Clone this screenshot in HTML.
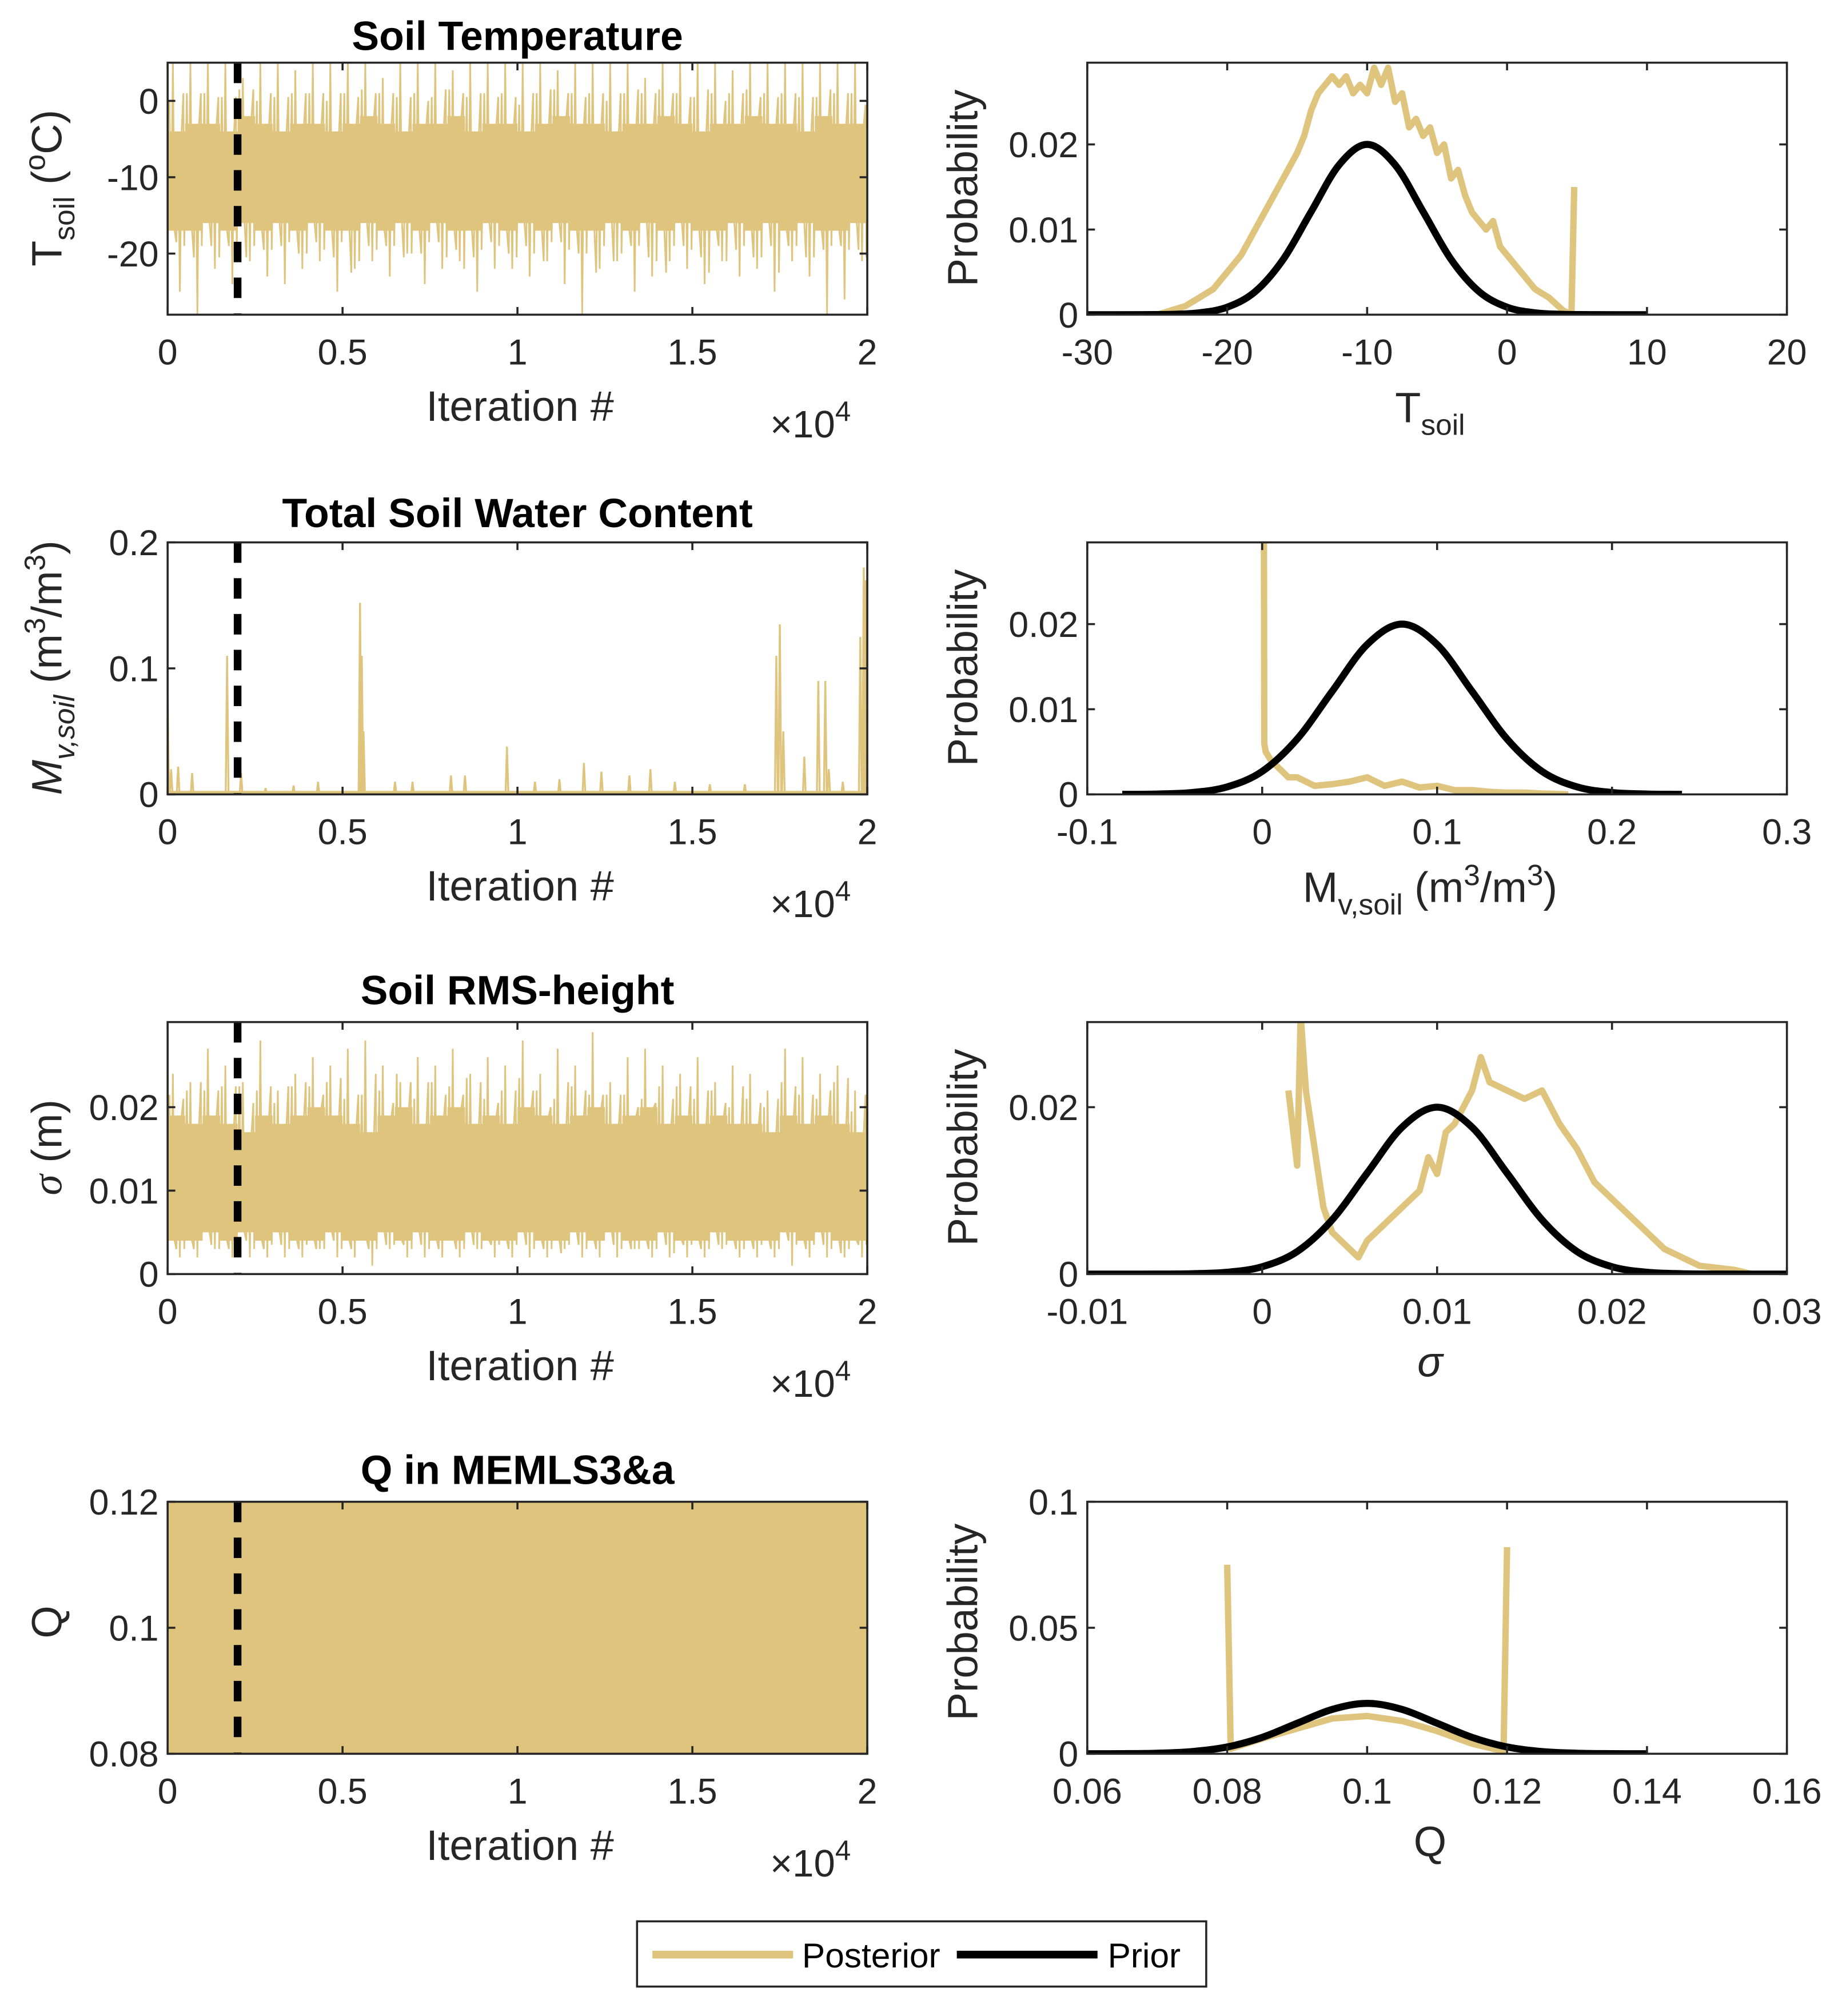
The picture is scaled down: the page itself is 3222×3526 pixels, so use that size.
<!DOCTYPE html>
<html><head><meta charset="utf-8"><style>
html,body{margin:0;padding:0;background:#fff;}
svg{display:block;}
text{font-family:"Liberation Sans",Arial,sans-serif;}
</style></head><body>
<svg id="fig" xmlns="http://www.w3.org/2000/svg" width="3222" height="3526" viewBox="0 0 1440 1576">
<rect x="0" y="0" width="1440" height="1576" fill="#fff"/>
</svg>
<script>
// ---------- DATA ----------
const tSpikeHi = [5,5,5,5,3,5,5,4,5,5,5,5,3,5,5,5,4,5,5,5,5,5,4,5,5,5,5,3,5,5,5,5,4,5,5,5,5,5,5,5];
const tSpikeLo = [-25,-28,-22,-24,-21,-23,-24,-22,-21,-25,-22,-21,-23,-20,-24,-22,-21,-25,-22,-22,-23,-21,-24,-28,-22,-21,-25,-23,-21,-22,-24,-21,-23,-22,-25,-21,-23,-28,-26,-21];
const tCoreHi = [-4,-3,-3,-4,-2,-3,-4,-3,-3,-4,-3,-2,-3,-4,-3,-3,-2,-4,-3,-3,-4,-3,-2,-3,-3,-4,-3,-3,-2,-3,-4,-3,-3,-2,-3,-3,-4,-2,-3,-3];
const tCoreLo = [-17,-17,-16,-17,-16,-17,-16,-17,-16,-17,-17,-16,-17,-16,-17,-16,-17,-17,-16,-17,-16,-17,-16,-17,-17,-16,-17,-16,-17,-16,-17,-17,-16,-17,-16,-17,-16,-17,-17,-16];

const waterIter = [0,100,300,700,1700,2100,2800,3600,4300,5500,5550,5600,6500,7000,8100,8500,9700,10500,11200,11900,12400,13200,13800,14500,15500,16500,17400,17500,17600,18200,18600,18800,18900,19300,19800,19900,19950];
const waterVal  = [0.085,0.02,0.022,0.017,0.11,0.017,0.005,0.007,0.01,0.152,0.11,0.05,0.01,0.01,0.015,0.015,0.038,0.01,0.012,0.025,0.018,0.015,0.02,0.01,0.008,0.008,0.11,0.135,0.05,0.03,0.09,0.09,0.02,0.01,0.125,0.18,0.17];

const sSpikeHi = [0.024,0.023,0.027,0.025,0.023,0.028,0.022,0.024,0.026,0.025,0.027,0.028,0.025,0.023,0.026,0.025,0.027,0.024,0.026,0.025,0.028,0.024,0.027,0.025,0.029,0.023,0.026,0.027,0.025,0.024,0.026,0.023,0.025,0.024,0.022,0.027,0.026,0.024,0.025,0.022];
const sSpikeLo = [0.002,0.002,0.003,0.002,0.002,0.002,0.002,0.002,0.003,0.002,0.002,0.001,0.003,0.002,0.002,0.002,0.002,0.003,0.002,0.002,0.002,0.002,0.003,0.002,0.002,0.002,0.003,0.002,0.002,0.002,0.002,0.003,0.002,0.002,0.002,0.001,0.002,0.002,0.002,0.002];
const sCoreHi = [0.019,0.018,0.019,0.018,0.017,0.019,0.018,0.019,0.02,0.019,0.018,0.017,0.019,0.02,0.018,0.019,0.02,0.018,0.019,0.018,0.02,0.019,0.018,0.019,0.02,0.018,0.019,0.02,0.018,0.019,0.018,0.019,0.018,0.018,0.017,0.019,0.018,0.019,0.018,0.017];
const sCoreLo = [0.004,0.004,0.005,0.004,0.005,0.004,0.005,0.004,0.004,0.005,0.004,0.004,0.005,0.004,0.005,0.004,0.004,0.005,0.004,0.004,0.005,0.004,0.004,0.005,0.004,0.005,0.004,0.004,0.005,0.004,0.004,0.005,0.004,0.004,0.004,0.005,0.004,0.005,0.004,0.004];

const qHi = [0.12,0.12,0.12,0.12,0.12,0.12,0.12,0.12,0.12,0.12];
const qLo = [0.08,0.08,0.08,0.08,0.08,0.08,0.08,0.08,0.08,0.08];

const tPostX = [-25,-23,-22,-21,-20,-19,-18,-17,-16,-15,-14.5,-14,-13.5,-13,-12.5,-12,-11.5,-11,-10.5,-10,-9.5,-9,-8.5,-8,-7.5,-7,-6.5,-6,-5.5,-5,-4.5,-4,-3.5,-3,-2.5,-2,-1.5,-1,-0.5,0,1,2,3,4,4.6,4.8];
const tPostY = [0,0.001,0.002,0.003,0.005,0.007,0.01,0.013,0.016,0.019,0.021,0.024,0.026,0.027,0.028,0.027,0.028,0.026,0.027,0.026,0.029,0.027,0.029,0.025,0.026,0.022,0.023,0.021,0.022,0.019,0.02,0.016,0.017,0.014,0.012,0.011,0.01,0.011,0.008,0.007,0.005,0.003,0.002,0.0005,0,0.015];
const tPriorX = [-30,-28,-26,-24,-22,-20,-18,-16,-14,-12,-10,-8,-6,-4,-2,0,2,4,6,8,10];
const tPriorY = [0,0,0.00001,0.00004,0.00022,0.00088,0.00271,0.00649,0.0121,0.0176,0.02,0.0176,0.0121,0.00649,0.00271,0.00088,0.00022,0.00004,0.00001,0,0];

const wPostX = [0.001,0.0012,0.002,0.005,0.01,0.015,0.02,0.03,0.04,0.05,0.06,0.07,0.08,0.09,0.1,0.11,0.12,0.13,0.14,0.15,0.16,0.175];
const wPostY = [0.0296,0.006,0.005,0.004,0.003,0.002,0.002,0.001,0.0012,0.0015,0.002,0.001,0.0015,0.0008,0.001,0.0005,0.0005,0.0003,0.0002,0.0002,0.0001,0];
const wPriorX = [-0.08,-0.06,-0.04,-0.02,0,0.02,0.04,0.06,0.08,0.1,0.12,0.14,0.16,0.18,0.2,0.22,0.24];
const wPriorY = [0.000006,0.000044,0.00022,0.00088,0.0027,0.0065,0.0121,0.0176,0.02,0.0176,0.0121,0.0065,0.0027,0.00088,0.00022,0.000044,0.000006];

const sPostX = [0.0015,0.002,0.0022,0.0025,0.003,0.0035,0.004,0.005,0.0055,0.006,0.007,0.008,0.009,0.0095,0.01,0.0105,0.011,0.012,0.0125,0.013,0.014,0.015,0.016,0.017,0.018,0.019,0.02,0.021,0.022,0.023,0.024,0.025,0.027,0.028];
const sPostY = [0.022,0.013,0.031,0.022,0.015,0.008,0.005,0.003,0.002,0.004,0.006,0.008,0.01,0.014,0.012,0.017,0.018,0.022,0.026,0.023,0.022,0.021,0.022,0.018,0.015,0.011,0.009,0.007,0.005,0.003,0.002,0.001,0.0005,0];
const sPriorX = [-0.01,-0.008,-0.006,-0.004,-0.002,0,0.002,0.004,0.006,0.008,0.01,0.012,0.014,0.016,0.018,0.02,0.022,0.024,0.026,0.028,0.03];
const sPriorY = [0,0,0.000006,0.000044,0.00022,0.00088,0.0027,0.0065,0.0121,0.0176,0.02,0.0176,0.0121,0.0065,0.0027,0.00088,0.00022,0.000044,0.000006,0,0];

const qPostX = [0.08,0.0805,0.085,0.09,0.095,0.1,0.105,0.11,0.115,0.1195,0.12];
const qPostY = [0.075,0.002,0.006,0.01,0.014,0.015,0.013,0.009,0.004,0.001,0.082];
const qPriorX = [0.06,0.065,0.07,0.075,0.08,0.085,0.09,0.095,0.1,0.105,0.11,0.115,0.12,0.125,0.13,0.135,0.14];
const qPriorY = [0.000006,0.000044,0.00022,0.00088,0.0027,0.0065,0.0121,0.0176,0.02,0.0176,0.0121,0.0065,0.0027,0.00088,0.00022,0.000044,0.000006];

const iterTicks = [0,5000,10000,15000,20000];
const iterTickLabels = ['0','0.5','1','1.5','2'];

// ---------- RENDER ----------
const NS = 'http://www.w3.org/2000/svg';
const svg = document.getElementById('fig');
const TAN = '#dfc47e', AX = '#262626';
const rowsTop = [49, 424, 799, 1174], H = 197;
const LX = 131, RX = 850, W = 547;
const TICKFS = 28;

function mk(tag, attrs, parent) {
  const e = document.createElementNS(NS, tag);
  for (const k in attrs) e.setAttribute(k, attrs[k]);
  (parent || svg).appendChild(e);
  return e;
}
function scale(d0, d1, r0, r1) { return v => r0 + (v - d0) / (d1 - d0) * (r1 - r0); }

function axes(name, x0, y0, xd, yd, xt, xtl, yt, ytl) {
  const g = mk('g', {});
  
  
  const sx = scale(xd[0], xd[1], x0, x0 + W), sy = scale(yd[0], yd[1], y0 + H, y0);
  return {g, sx, sy, x0, y0, xt, xtl, yt, ytl};
}
function frame(a) {
  const {g, sx, sy, x0, y0} = a;
  const b = mk('rect', {x: x0, y: y0, width: W, height: H, fill: 'none', stroke: AX, 'stroke-width': 1.6}, g);
  
  
  a.xt.forEach((v, i) => {
    const x = sx(v);
    mk('line', {x1: x, y1: y0 + H, x2: x, y2: y0 + H - 6, stroke: AX, 'stroke-width': 1.6}, g);
    mk('line', {x1: x, y1: y0, x2: x, y2: y0 + 6, stroke: AX, 'stroke-width': 1.6}, g);
    const t = mk('text', {x: x, y: y0 + H + 39, 'font-size': TICKFS, 'text-anchor': 'middle', fill: AX}, g);
    t.textContent = a.xtl[i];
    
    
  });
  a.yt.forEach((v, i) => {
    const y = sy(v);
    mk('line', {x1: x0, y1: y, x2: x0 + 6, y2: y, stroke: AX, 'stroke-width': 1.6}, g);
    mk('line', {x1: x0 + W, y1: y, x2: x0 + W - 6, y2: y, stroke: AX, 'stroke-width': 1.6}, g);
    const t = mk('text', {x: x0 - 7, y: y + 10, 'font-size': TICKFS, 'text-anchor': 'end', fill: AX}, g);
    t.textContent = a.ytl[i];
    
    
  });
}
function clip(id, a) {
  const cp = mk('clipPath', {id: id});
  mk('rect', {x: a.x0, y: a.y0, width: W, height: H}, cp);
  return 'url(#' + id + ')';
}
function bandTrace(a, cid, hi, lo, coreHi, coreLo) {
  const n = hi.length, bw = 20000 / n;
  const gg = mk('g', {'clip-path': clip(cid, a)}, a.g);
  let pts = [];
  for (let i = 0; i < n; i++) {
    const j = (i + 7) % n, k = (i + 13) % n;
    const mh = (hi[j] + coreHi[i]) / 2, ml = (lo[k] + coreLo[i]) / 2;
    pts.push(a.sx(i * bw + bw * 0.1) + ',' + a.sy(mh));
    pts.push(a.sx(i * bw + bw * 0.2) + ',' + a.sy(coreLo[i]));
    pts.push(a.sx(i * bw + bw * 0.3) + ',' + a.sy(hi[i]));
    pts.push(a.sx(i * bw + bw * 0.4) + ',' + a.sy(coreLo[i]));
    pts.push(a.sx(i * bw + bw * 0.5) + ',' + a.sy(ml));
    pts.push(a.sx(i * bw + bw * 0.6) + ',' + a.sy(coreHi[i]));
    pts.push(a.sx(i * bw + bw * 0.7) + ',' + a.sy(lo[i]));
    pts.push(a.sx(i * bw + bw * 0.8) + ',' + a.sy(coreHi[i]));
    pts.push(a.sx(i * bw + bw * 0.9) + ',' + a.sy((hi[k] + coreHi[j]) / 2));
    pts.push(a.sx(i * bw + bw * 0.95) + ',' + a.sy((lo[j] + coreLo[k]) / 2));
  }
  const sp = mk('polyline', {points: pts.join(' '), fill: 'none', stroke: TAN, 'stroke-width': 1.3}, gg);
  
  
  let up = [], dn = [];
  for (let i = 0; i < n; i++) {
    up.push(a.sx(i * bw) + ',' + a.sy(coreHi[i]));
    up.push(a.sx((i + 1) * bw) + ',' + a.sy(coreHi[i]));
    dn.unshift(a.sx(i * bw) + ',' + a.sy(coreLo[i]));
    dn.unshift(a.sx((i + 1) * bw) + ',' + a.sy(coreLo[i]));
  }
  const core = mk('polygon', {points: up.concat(dn).join(' '), fill: TAN, stroke: 'none'}, gg);
  
  
  return gg;
}
function burnin(a) {
  const x = a.sx(2000);
  const l = mk('line', {x1: x, y1: a.y0, x2: x, y2: a.y0 + H, stroke: '#000', 'stroke-width': 6, 'stroke-dasharray': '16,12'}, a.g);
  
  
}
function curve(a, xs, ys, color, w, name, cid, smooth) {
  const P = xs.map((v, i) => [a.sx(v), a.sy(ys[i])]);
  const gg = mk('g', {'clip-path': clip(cid, a)}, a.g);
  let p;
  if (smooth) {
    let d = 'M' + P[0][0] + ',' + P[0][1];
    for (let i = 0; i < P.length - 1; i++) {
      const p0 = P[Math.max(i - 1, 0)], p1 = P[i], p2 = P[i + 1], p3 = P[Math.min(i + 2, P.length - 1)];
      const c1x = p1[0] + (p2[0] - p0[0]) / 6, c1y = p1[1] + (p2[1] - p0[1]) / 6;
      const c2x = p2[0] - (p3[0] - p1[0]) / 6, c2y = p2[1] - (p3[1] - p1[1]) / 6;
      d += ' C' + c1x + ',' + c1y + ' ' + c2x + ',' + c2y + ' ' + p2[0] + ',' + p2[1];
    }
    p = mk('path', {d: d, fill: 'none', stroke: color, 'stroke-width': w, 'stroke-linejoin': 'round'}, gg);
  } else {
    p = mk('polyline', {points: P.map(q => q.join(',')).join(' '), fill: 'none', stroke: color, 'stroke-width': w, 'stroke-linejoin': 'round'}, gg);
  }
  
  
}
function text(str, x, y, size, opts) {
  const t = mk('text', Object.assign({x: x, y: y, 'font-size': size, fill: AX}, opts || {}));
  t.innerHTML = str;
  return t;
}
function title(str, y) {
  const t = text(str, LX + W / 2, y, 32, {'text-anchor': 'middle', 'font-weight': 'bold', fill: '#000'});
  
  
}
function iterLabel(y0) {
  const t = text('Iteration #', LX + W / 2 + 2, y0 + H + 83, 33, {'text-anchor': 'middle'});
  
  
  const e = text('×10<tspan dy="-13" font-size="22">4</tspan>', 602, y0 + H + 96, 30, {});
  
  
}
function ylab(str, cy, x, name) {
  const t = text(str, x, cy, 33, {'text-anchor': 'middle', transform: 'rotate(-90 ' + x + ' ' + cy + ')'});
  
  
}

// Row 1
let a = axes('temperature-trace-axes', LX, rowsTop[0], [0, 20000], [-28, 5], iterTicks, iterTickLabels, [-20, -10, 0], ['-20', '-10', '0']);
bandTrace(a, 'c1', tSpikeHi, tSpikeLo, tCoreHi, tCoreLo); burnin(a); frame(a);
title('Soil Temperature', 39); iterLabel(rowsTop[0]);
ylab('T<tspan dy="10" font-size="23">soil</tspan><tspan dy="-10"> (</tspan><tspan dy="-13" font-size="23">o</tspan><tspan dy="13">C)</tspan>', 147, 48, 'y-axis-title');

a = axes('temperature-hist-axes', RX, rowsTop[0], [-30, 20], [0, 0.0296], [-30, -20, -10, 0, 10, 20], ['-30', '-20', '-10', '0', '10', '20'], [0, 0.01, 0.02], ['0', '0.01', '0.02']);
curve(a, tPostX, tPostY, TAN, 5, 'posterior-line', 'h1a'); curve(a, tPriorX, tPriorY, '#000', 5.5, 'prior-line', 'h1b', true); frame(a);
ylab('Probability', 147, 764, 'y-axis-title');
text('T<tspan dy="10" font-size="23">soil</tspan>', 1118, 330, 33, {'text-anchor': 'middle'});

// Row 2
a = axes('water-trace-axes', LX, rowsTop[1], [0, 20000], [0, 0.2], iterTicks, iterTickLabels, [0, 0.1, 0.2], ['0', '0.1', '0.2']);
{
  const gg = mk('g', {'clip-path': clip('c2', a)}, a.g);
  const base = mk('line', {x1: a.sx(0), y1: a.sy(0.0015), x2: a.sx(20000), y2: a.sy(0.0015), stroke: TAN, 'stroke-width': 2.5}, gg);
  
  
  waterIter.forEach((it, i) => {
    const p = mk('polyline', {points: a.sx(it - 40) + ',' + a.sy(0) + ' ' + a.sx(it) + ',' + a.sy(waterVal[i]) + ' ' + a.sx(it + 40) + ',' + a.sy(0), fill: 'none', stroke: TAN, 'stroke-width': 1.5}, gg);
    
    
  });
}
burnin(a); frame(a);
title('Total Soil Water Content', 412); iterLabel(rowsTop[1]);
ylab('<tspan font-style="italic">M<tspan dy="10" font-size="23">v,soil</tspan></tspan><tspan dy="-10"> (m</tspan><tspan dy="-13" font-size="23">3</tspan><tspan dy="13">/m</tspan><tspan dy="-13" font-size="23">3</tspan><tspan dy="13">)</tspan>', 522, 48, 'y-axis-title');

a = axes('water-hist-axes', RX, rowsTop[1], [-0.1, 0.3], [0, 0.0296], [-0.1, 0, 0.1, 0.2, 0.3], ['-0.1', '0', '0.1', '0.2', '0.3'], [0, 0.01, 0.02], ['0', '0.01', '0.02']);
curve(a, wPostX, wPostY, TAN, 5, 'posterior-line', 'h2a'); curve(a, wPriorX, wPriorY, '#000', 5.5, 'prior-line', 'h2b', true); frame(a);
ylab('Probability', 522, 764, 'y-axis-title');
text('M<tspan dy="10" font-size="23">v,soil</tspan><tspan dy="-10"> (m</tspan><tspan dy="-13" font-size="23">3</tspan><tspan dy="13">/m</tspan><tspan dy="-13" font-size="23">3</tspan><tspan dy="13">)</tspan>', 1118, 705, 33, {'text-anchor': 'middle'});

// Row 3
a = axes('roughness-trace-axes', LX, rowsTop[2], [0, 20000], [0, 0.0302], iterTicks, iterTickLabels, [0, 0.01, 0.02], ['0', '0.01', '0.02']);
bandTrace(a, 'c3', sSpikeHi, sSpikeLo, sCoreHi, sCoreLo); burnin(a); frame(a);
title('Soil RMS-height', 785); iterLabel(rowsTop[2]);
ylab('<tspan font-family="Liberation Serif" font-style="italic">σ</tspan> (m)', 897, 48, 'y-axis-title');

a = axes('roughness-hist-axes', RX, rowsTop[2], [-0.01, 0.03], [0, 0.0302], [-0.01, 0, 0.01, 0.02, 0.03], ['-0.01', '0', '0.01', '0.02', '0.03'], [0, 0.02], ['0', '0.02']);
curve(a, sPostX, sPostY, TAN, 5, 'posterior-line', 'h3a'); curve(a, sPriorX, sPriorY, '#000', 5.5, 'prior-line', 'h3b', true); frame(a);
ylab('Probability', 897, 764, 'y-axis-title');
text('σ', 1118, 1076, 33, {'text-anchor': 'middle', 'font-family': 'Liberation Serif', 'font-style': 'italic'});

// Row 4
a = axes('q-trace-axes', LX, rowsTop[3], [0, 20000], [0.08, 0.12], iterTicks, iterTickLabels, [0.08, 0.1, 0.12], ['0.08', '0.1', '0.12']);
bandTrace(a, 'c4', qHi, qLo, qHi, qLo); burnin(a); frame(a);
title('Q in MEMLS3&amp;a', 1160); iterLabel(rowsTop[3]);
ylab('Q', 1268, 48, 'y-axis-title');

a = axes('q-hist-axes', RX, rowsTop[3], [0.06, 0.16], [0, 0.1], [0.06, 0.08, 0.1, 0.12, 0.14, 0.16], ['0.06', '0.08', '0.1', '0.12', '0.14', '0.16'], [0, 0.05, 0.1], ['0', '0.05', '0.1']);
curve(a, qPostX, qPostY, TAN, 5, 'posterior-line', 'h4a'); curve(a, qPriorX, qPriorY, '#000', 5.5, 'prior-line', 'h4b', true); frame(a);
ylab('Probability', 1268, 764, 'y-axis-title');
text('Q', 1118, 1451, 33, {'text-anchor': 'middle'});

// Legend
const lg = mk('g', {});


mk('rect', {x: 498, y: 1502, width: 445, height: 51, fill: '#fff', stroke: AX, 'stroke-width': 1.6}, lg);
const l1 = mk('line', {x1: 510, y1: 1528, x2: 620, y2: 1528, stroke: TAN, 'stroke-width': 6}, lg);


const t1 = mk('text', {x: 627, y: 1538, 'font-size': 27, fill: '#000'}, lg); t1.textContent = 'Posterior';
const l2 = mk('line', {x1: 748, y1: 1528, x2: 858, y2: 1528, stroke: '#000', 'stroke-width': 6}, lg);


const t2 = mk('text', {x: 866, y: 1538, 'font-size': 27, fill: '#000'}, lg); t2.textContent = 'Prior';
</script>
</body></html>
